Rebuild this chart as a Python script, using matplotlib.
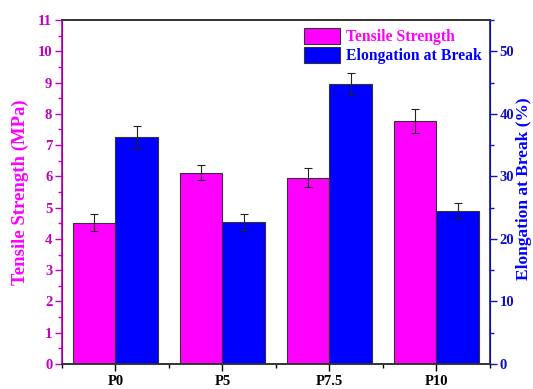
import numpy as np
import matplotlib.pyplot as plt
from matplotlib.ticker import MultipleLocator

plt.rcParams['font.family'] = 'Liberation Serif'
plt.rcParams['font.weight'] = 'bold'

samples = ['P0', 'P5', 'P7.5', 'P10']
tensile = [4.52, 6.12, 5.96, 7.78]          # MPa
tensile_err = [0.28, 0.25, 0.30, 0.38]
elongation = [36.3, 22.7, 44.8, 24.5]       # %
elongation_err = [1.8, 1.35, 1.8, 1.2]

pink = '#FF00FF'
blue = '#0000FF'
pink_dark = '#C000C0'
blue_dark = '#1010C8'

fig = plt.figure(figsize=(5.33, 3.89), dpi=100)
ax = fig.add_axes([0.1163, 0.0643, 0.803, 0.8843])
ax2 = ax.twinx()

x = np.arange(len(samples))
w = 0.4
err_style = dict(ecolor='#222222', elinewidth=0.8, capsize=3, capthick=0.8)

b1 = ax.bar(x - w / 2, tensile, w, color=pink, edgecolor='#333333', linewidth=0.8,
            yerr=tensile_err, error_kw=err_style, label='Tensile Strength', zorder=2)
b2 = ax2.bar(x + w / 2, elongation, w, color=blue, edgecolor='#333333', linewidth=0.8,
             yerr=elongation_err, error_kw=err_style, label='Elongation at Break', zorder=2)

ax.set_xlim(-0.5, 3.5)
ax.set_ylim(0, 11)
ax2.set_ylim(0, 55)

ax.set_xticks(x)
ax.set_xticklabels(samples, fontsize=10.5, fontweight='bold')
ax.xaxis.set_minor_locator(MultipleLocator(0.5))
ax.yaxis.set_major_locator(MultipleLocator(1))
ax.yaxis.set_minor_locator(MultipleLocator(0.5))
ax2.yaxis.set_major_locator(MultipleLocator(10))
ax2.yaxis.set_minor_locator(MultipleLocator(5))

ax.tick_params(axis='x', which='major', direction='out', length=5, width=1, pad=3)
ax.tick_params(axis='x', which='minor', direction='out', length=3, width=1)
ax.tick_params(axis='y', which='major', direction='out', length=5, width=1, pad=2,
               colors=pink_dark, labelsize=10.5)
ax.tick_params(axis='y', which='minor', direction='out', length=3, width=1, colors=pink_dark)
ax2.tick_params(axis='y', which='major', direction='out', length=5, width=1, pad=2,
                colors=blue_dark, labelsize=10.5)
ax2.tick_params(axis='y', which='minor', direction='out', length=3, width=1, colors=blue_dark)
for lbl in ax.get_yticklabels() + ax2.get_yticklabels():
    lbl.set_fontweight('bold')

for a in (ax, ax2):
    a.spines['top'].set_color('#333333')
    a.spines['bottom'].set_color('#333333')
    a.spines['top'].set_linewidth(1.2)
    a.spines['bottom'].set_linewidth(1.2)
ax2.spines['left'].set_color(pink_dark)
ax2.spines['left'].set_linewidth(1.2)
ax2.spines['right'].set_color(blue_dark)
ax2.spines['right'].set_linewidth(1.2)

ax.set_ylabel('Tensile Strength (MPa)', color=pink, fontsize=13.5, fontweight='bold')
ax2.set_ylabel('Elongation at Break (%)', color=blue, fontsize=12.5, fontweight='bold')
ax.yaxis.set_label_coords(-0.098, 0.5)
ax2.yaxis.set_label_coords(1.079, 0.51)
ax.yaxis.label.set_va('center')
ax2.yaxis.label.set_va('center')

leg = ax.legend([b1, b2], ['Tensile Strength', 'Elongation at Break'], loc='upper right',
                frameon=False, handlelength=2.3, handleheight=1.2,
                handletextpad=0.4, labelspacing=0.1, borderaxespad=0.3, borderpad=0.2,
                prop={'weight': 'bold', 'size': 11.3})
for txt, c in zip(leg.get_texts(), [pink, blue]):
    txt.set_color(c)

fig.savefig('out.png', dpi=100)
